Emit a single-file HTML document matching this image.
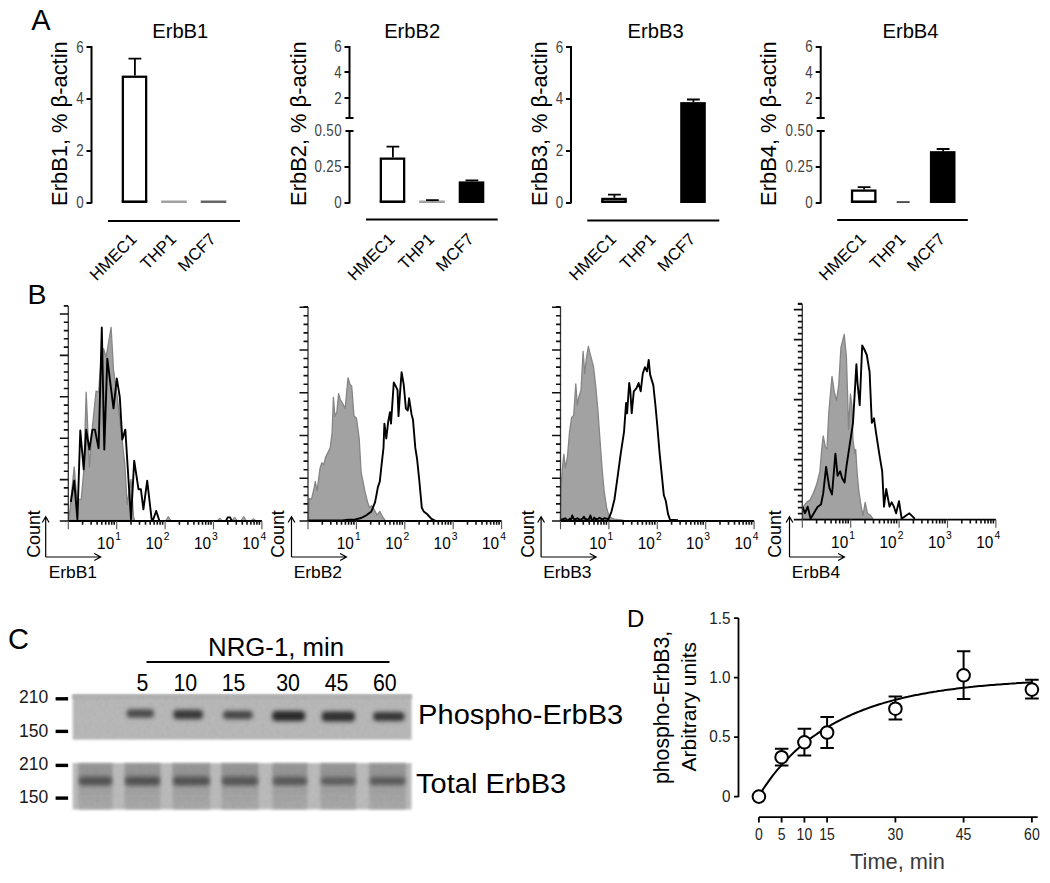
<!DOCTYPE html>
<html><head><meta charset="utf-8"><title>Figure</title>
<style>html,body{margin:0;padding:0;background:#fff;overflow:hidden;} svg{display:block;}</style></head>
<body><svg width="1050" height="883" viewBox="0 0 1050 883" font-family="Liberation Sans, sans-serif">
<rect width="1050" height="883" fill="#fff"/>
<text x="31.3" y="29.9" font-size="29" font-family="Liberation Sans, sans-serif">A</text>
<text x="27.6" y="304" font-size="28.5" font-family="Liberation Sans, sans-serif">B</text>
<text x="7.9" y="649.2" font-size="29" font-family="Liberation Sans, sans-serif">C</text>
<text x="627" y="627" font-size="24" font-family="Liberation Sans, sans-serif">D</text>
<text x="180.25" y="37.5" font-size="20.2" text-anchor="middle" font-family="Liberation Sans, sans-serif">ErbB1</text>
<text transform="translate(67,123.6) rotate(-90)" font-size="21.9" text-anchor="middle" font-family="Liberation Sans, sans-serif">ErbB1, % β-actin</text>
<path d="M91.5,46 V203.5 M86.5,203 H91.5 M86.5,151 H91.5 M86.5,99 H91.5 M86.5,47 H91.5" stroke="#000" stroke-width="2" fill="none"/>
<text transform="translate(84.0,207.8) scale(0.8,1)" fill="#444" font-size="16.7" letter-spacing="0.5" text-anchor="end" font-family="Liberation Sans, sans-serif">0</text>
<text transform="translate(84.0,155.8) scale(0.8,1)" fill="#444" font-size="16.7" letter-spacing="0.5" text-anchor="end" font-family="Liberation Sans, sans-serif">2</text>
<text transform="translate(84.0,103.8) scale(0.8,1)" fill="#444" font-size="16.7" letter-spacing="0.5" text-anchor="end" font-family="Liberation Sans, sans-serif">4</text>
<text transform="translate(84.0,53.1) scale(0.8,1)" fill="#444" font-size="16.7" letter-spacing="0.5" text-anchor="end" font-family="Liberation Sans, sans-serif">6</text>
<rect x="122.85" y="76.75" width="23.30" height="125.10" fill="#fff" stroke="#000" stroke-width="2.3"/>
<path d="M121.7,201.2 H147.3" stroke="#000" stroke-width="1.2"/>
<path d="M134.9,75.6 V58.70000000000002 M128.5,58.70000000000002 H141.3" stroke="#000" stroke-width="1.8" fill="none"/>
<text transform="translate(137.9,240.3) rotate(-45)" font-size="16.7" text-anchor="end" font-family="Liberation Sans, sans-serif">HMEC1</text>
<rect x="161.20" y="200.50" width="25.6" height="2.50" fill="#a0a0a0"/>
<text transform="translate(177.4,240.3) rotate(-45)" font-size="16.7" text-anchor="end" font-family="Liberation Sans, sans-serif">THP1</text>
<rect x="200.70" y="200.50" width="25.6" height="2.50" fill="#666"/>
<text transform="translate(216.9,240.3) rotate(-45)" font-size="16.7" text-anchor="end" font-family="Liberation Sans, sans-serif">MCF7</text>
<path d="M108,221 H240" stroke="#000" stroke-width="2"/>
<text x="412.2" y="37.5" font-size="20.2" text-anchor="middle" font-family="Liberation Sans, sans-serif">ErbB2</text>
<text transform="translate(306,123.6) rotate(-90)" font-size="21.9" text-anchor="middle" font-family="Liberation Sans, sans-serif">ErbB2, % β-actin</text>
<path d="M349.5,46 V118 M345.5,118 H353.5 M344.5,98 H349.5 M344.5,72 H349.5 M344.5,47 H349.5" stroke="#000" stroke-width="2" fill="none"/>
<path d="M349.5,130.5 V203.5 M345.5,131 H353.5 M344.5,167 H349.5 M344.5,203 H349.5" stroke="#000" stroke-width="2" fill="none"/>
<text transform="translate(342.0,103.9) scale(0.8,1)" fill="#444" font-size="16.7" letter-spacing="0.5" text-anchor="end" font-family="Liberation Sans, sans-serif">2</text>
<text transform="translate(342.0,77.9) scale(0.8,1)" fill="#444" font-size="16.7" letter-spacing="0.5" text-anchor="end" font-family="Liberation Sans, sans-serif">4</text>
<text transform="translate(342.0,52.3) scale(0.8,1)" fill="#444" font-size="16.7" letter-spacing="0.5" text-anchor="end" font-family="Liberation Sans, sans-serif">6</text>
<text transform="translate(342.0,207.8) scale(0.8,1)" fill="#444" font-size="16.7" letter-spacing="0.5" text-anchor="end" font-family="Liberation Sans, sans-serif">0</text>
<text transform="translate(342.0,171.8) scale(0.8,1)" fill="#444" font-size="16.7" letter-spacing="0.5" text-anchor="end" font-family="Liberation Sans, sans-serif">0.25</text>
<text transform="translate(342.0,135.8) scale(0.8,1)" fill="#444" font-size="16.7" letter-spacing="0.5" text-anchor="end" font-family="Liberation Sans, sans-serif">0.50</text>
<rect x="380.85" y="158.65" width="23.30" height="43.20" fill="#fff" stroke="#000" stroke-width="2.3"/>
<path d="M379.7,201.2 H405.3" stroke="#000" stroke-width="1.2"/>
<path d="M392.9,157.496 V146.552 M386.5,146.552 H399.3" stroke="#000" stroke-width="1.8" fill="none"/>
<text transform="translate(395.9,240.3) rotate(-45)" font-size="16.7" text-anchor="end" font-family="Liberation Sans, sans-serif">HMEC1</text>
<rect x="419.20" y="200.50" width="25.6" height="2.50" fill="#a0a0a0"/>
<path d="M432.4,201.272 V200.12 M426.0,200.12 H438.8" stroke="#000" stroke-width="1.8" fill="none"/>
<text transform="translate(435.4,240.3) rotate(-45)" font-size="16.7" text-anchor="end" font-family="Liberation Sans, sans-serif">THP1</text>
<rect x="458.70" y="181.40" width="25.6" height="21.60" fill="#000"/>
<path d="M471.9,181.4 V180.392 M465.5,180.392 H478.3" stroke="#000" stroke-width="1.8" fill="none"/>
<text transform="translate(474.9,240.3) rotate(-45)" font-size="16.7" text-anchor="end" font-family="Liberation Sans, sans-serif">MCF7</text>
<path d="M366,219.5 H497.7" stroke="#000" stroke-width="2"/>
<text x="655.65" y="37.5" font-size="20.2" text-anchor="middle" font-family="Liberation Sans, sans-serif">ErbB3</text>
<text transform="translate(546.6,123.6) rotate(-90)" font-size="21.9" text-anchor="middle" font-family="Liberation Sans, sans-serif">ErbB3, % β-actin</text>
<path d="M571,46 V203.5 M566,203 H571 M566,151 H571 M566,99 H571 M566,47 H571" stroke="#000" stroke-width="2" fill="none"/>
<text transform="translate(563.5,207.8) scale(0.8,1)" fill="#444" font-size="16.7" letter-spacing="0.5" text-anchor="end" font-family="Liberation Sans, sans-serif">0</text>
<text transform="translate(563.5,155.8) scale(0.8,1)" fill="#444" font-size="16.7" letter-spacing="0.5" text-anchor="end" font-family="Liberation Sans, sans-serif">2</text>
<text transform="translate(563.5,103.8) scale(0.8,1)" fill="#444" font-size="16.7" letter-spacing="0.5" text-anchor="end" font-family="Liberation Sans, sans-serif">4</text>
<text transform="translate(563.5,53.1) scale(0.8,1)" fill="#444" font-size="16.7" letter-spacing="0.5" text-anchor="end" font-family="Liberation Sans, sans-serif">6</text>
<rect x="602.35" y="198.95" width="23.30" height="2.90" fill="#fff" stroke="#000" stroke-width="2.3"/>
<path d="M601.2,201.2 H626.8" stroke="#000" stroke-width="1.2"/>
<path d="M614.4,197.8 V194.68 M608.0,194.68 H620.8" stroke="#000" stroke-width="1.8" fill="none"/>
<text transform="translate(617.4,240.3) rotate(-45)" font-size="16.7" text-anchor="end" font-family="Liberation Sans, sans-serif">HMEC1</text>
<text transform="translate(656.9,240.3) rotate(-45)" font-size="16.7" text-anchor="end" font-family="Liberation Sans, sans-serif">THP1</text>
<rect x="680.20" y="102.12" width="25.6" height="100.88" fill="#000"/>
<path d="M693.4,102.12 V99.52 M687.0,99.52 H699.8" stroke="#000" stroke-width="1.8" fill="none"/>
<text transform="translate(696.4,240.3) rotate(-45)" font-size="16.7" text-anchor="end" font-family="Liberation Sans, sans-serif">MCF7</text>
<path d="M587.3,220.6 H719.3" stroke="#000" stroke-width="2"/>
<text x="910.5" y="37.5" font-size="20.2" text-anchor="middle" font-family="Liberation Sans, sans-serif">ErbB4</text>
<text transform="translate(776,123.6) rotate(-90)" font-size="21.9" text-anchor="middle" font-family="Liberation Sans, sans-serif">ErbB4, % β-actin</text>
<path d="M820.7,46 V118 M816.7,118 H824.7 M815.7,98 H820.7 M815.7,72 H820.7 M815.7,47 H820.7" stroke="#000" stroke-width="2" fill="none"/>
<path d="M820.7,130.5 V203.5 M816.7,131 H824.7 M815.7,167 H820.7 M815.7,203 H820.7" stroke="#000" stroke-width="2" fill="none"/>
<text transform="translate(813.2,103.9) scale(0.8,1)" fill="#444" font-size="16.7" letter-spacing="0.5" text-anchor="end" font-family="Liberation Sans, sans-serif">2</text>
<text transform="translate(813.2,77.9) scale(0.8,1)" fill="#444" font-size="16.7" letter-spacing="0.5" text-anchor="end" font-family="Liberation Sans, sans-serif">4</text>
<text transform="translate(813.2,52.3) scale(0.8,1)" fill="#444" font-size="16.7" letter-spacing="0.5" text-anchor="end" font-family="Liberation Sans, sans-serif">6</text>
<text transform="translate(813.2,207.8) scale(0.8,1)" fill="#444" font-size="16.7" letter-spacing="0.5" text-anchor="end" font-family="Liberation Sans, sans-serif">0</text>
<text transform="translate(813.2,171.8) scale(0.8,1)" fill="#444" font-size="16.7" letter-spacing="0.5" text-anchor="end" font-family="Liberation Sans, sans-serif">0.25</text>
<text transform="translate(813.2,135.8) scale(0.8,1)" fill="#444" font-size="16.7" letter-spacing="0.5" text-anchor="end" font-family="Liberation Sans, sans-serif">0.50</text>
<rect x="852.05" y="190.61" width="23.30" height="11.24" fill="#fff" stroke="#000" stroke-width="2.3"/>
<path d="M850.9000000000001,201.2 H876.5" stroke="#000" stroke-width="1.2"/>
<path d="M864.1,189.464 V187.16 M857.7,187.16 H870.5" stroke="#000" stroke-width="1.8" fill="none"/>
<text transform="translate(867.1,240.3) rotate(-45)" font-size="16.7" text-anchor="end" font-family="Liberation Sans, sans-serif">HMEC1</text>
<rect x="896.7" y="201.3" width="13" height="1.5" fill="#222"/>
<text transform="translate(906.6,240.3) rotate(-45)" font-size="16.7" text-anchor="end" font-family="Liberation Sans, sans-serif">THP1</text>
<rect x="929.90" y="151.16" width="25.6" height="51.84" fill="#000"/>
<path d="M943.1,151.16 V149.0 M936.7,149.0 H949.5" stroke="#000" stroke-width="1.8" fill="none"/>
<text transform="translate(946.1,240.3) rotate(-45)" font-size="16.7" text-anchor="end" font-family="Liberation Sans, sans-serif">MCF7</text>
<path d="M837.2,220 H967.8" stroke="#000" stroke-width="2"/>
<polygon points="68.7,520.5 70.0,509.3 74.2,466.9 76.9,499.3 81.2,499.3 83.7,471.9 86.2,392.2 89.4,466.9 92.4,427.0 96.1,391.0 98.6,392.2 101.1,359.8 103.6,348.6 106.1,357.3 111.1,327.4 113.5,369.8 117.3,397.2 121.0,429.6 124.8,464.4 127.2,504.3 131.0,479.4 133.5,516.7 134.7,520.5" fill="#a2a2a2" stroke="#858585" stroke-width="1.3" stroke-linejoin="round"/>
<polygon points="165.3,521 168.3,516.3 171.3,521" fill="#a2a2a2" stroke="#858585" stroke-width="1"/>
<polygon points="216.7,521 219.7,518 222.7,521" fill="#a2a2a2" stroke="#858585" stroke-width="1"/>
<polygon points="231.6,521 234.6,516.9 237.6,521" fill="#a2a2a2" stroke="#858585" stroke-width="1"/>
<polygon points="240.7,521 243.7,516.3 246.7,521" fill="#a2a2a2" stroke="#858585" stroke-width="1"/>
<polygon points="250.4,521 253.4,518.5 256.4,521" fill="#a2a2a2" stroke="#858585" stroke-width="1"/>
<polyline points="70.8,502.0 74.2,480.6 77.4,519.2 80.3,430.5 83.7,469.4 86.2,429.6 89.4,449.5 92.4,429.6 94.9,429.6 98.6,448.2 101.8,327.4 104.3,449.5 107.3,358.6 113.5,408.4 116.8,378.5 119.8,397.2 122.3,439.5 125.3,429.6 131.0,519.2 134.2,460.7 138.5,489.3 140.9,489.3 143.4,509.3 147.2,480.6 151.6,519.0 153.0,520.0 156.2,511.0 159.3,520.5" fill="none" stroke="#000" stroke-width="1.9" stroke-linejoin="round"/>
<polyline points="225.9,521 227.70000000000002,517.4 230.1,517.4 231.9,521" fill="none" stroke="#000" stroke-width="1.8"/>
<path d="M68.3,306 V521" stroke="#333" stroke-width="1.3" fill="none"/>
<path d=" M59.8,521.0 H68.3 M63.8,512.7 H68.3 M63.8,504.4 H68.3 M63.8,496.2 H68.3 M63.8,487.9 H68.3 M59.8,479.6 H68.3 M63.8,471.3 H68.3 M63.8,463.0 H68.3 M63.8,454.8 H68.3 M63.8,446.5 H68.3 M59.8,438.2 H68.3 M63.8,429.9 H68.3 M63.8,421.6 H68.3 M63.8,413.4 H68.3 M63.8,405.1 H68.3 M59.8,396.8 H68.3 M63.8,388.5 H68.3 M63.8,380.2 H68.3 M63.8,372.0 H68.3 M63.8,363.7 H68.3 M59.8,355.4 H68.3 M63.8,347.1 H68.3 M63.8,338.8 H68.3 M63.8,330.6 H68.3 M63.8,322.3 H68.3 M59.8,314.0 H68.3 M63.8,305.7 H68.3 M63.8,306 H68.3" stroke="#111" stroke-width="1.6" fill="none"/>
<path d="M68.3,521 H261.9" stroke="#000" stroke-width="1.9" fill="none"/>
<path d=" M82.6,521 V524.8 M91.1,521 V524.8 M97.1,521 V524.8 M101.8,521 V524.8 M105.7,521 V524.8 M108.9,521 V524.8 M111.7,521 V524.8 M114.2,521 V524.8 M131.0,521 V524.8 M139.5,521 V524.8 M145.5,521 V524.8 M150.2,521 V524.8 M154.1,521 V524.8 M157.3,521 V524.8 M160.1,521 V524.8 M162.6,521 V524.8 M179.4,521 V524.8 M187.9,521 V524.8 M193.9,521 V524.8 M198.6,521 V524.8 M202.5,521 V524.8 M205.7,521 V524.8 M208.5,521 V524.8 M211.0,521 V524.8 M227.8,521 V524.8 M236.3,521 V524.8 M242.3,521 V524.8 M247.0,521 V524.8 M250.9,521 V524.8 M254.1,521 V524.8 M256.9,521 V524.8 M259.4,521 V524.8" stroke="#111" stroke-width="1.6" fill="none"/>
<path d=" M68.3,521 V529.2 M116.7,521 V529.2 M165.1,521 V529.2 M213.5,521 V529.2 M261.9,521 V529.2" stroke="#555" stroke-width="1.1" fill="none"/>
<text transform="translate(114.2,549) scale(0.96,1)" font-size="16" text-anchor="end" font-family="Liberation Sans, sans-serif">10</text><text x="115.3" y="540.3" font-size="10.3" font-family="Liberation Sans, sans-serif">1</text>
<text transform="translate(162.6,549) scale(0.96,1)" font-size="16" text-anchor="end" font-family="Liberation Sans, sans-serif">10</text><text x="163.7" y="540.3" font-size="10.3" font-family="Liberation Sans, sans-serif">2</text>
<text transform="translate(211.0,549) scale(0.96,1)" font-size="16" text-anchor="end" font-family="Liberation Sans, sans-serif">10</text><text x="212.1" y="540.3" font-size="10.3" font-family="Liberation Sans, sans-serif">3</text>
<text transform="translate(259.4,549) scale(0.96,1)" font-size="16" text-anchor="end" font-family="Liberation Sans, sans-serif">10</text><text x="260.5" y="540.3" font-size="10.3" font-family="Liberation Sans, sans-serif">4</text>
<text transform="translate(40.2,534) rotate(-90)" font-size="17.8" text-anchor="middle" font-family="Liberation Sans, sans-serif">Count</text>
<path d="M45.7,557 V516.6 M42.300000000000004,522.5 L45.7,516.6 L49.1,522.5 M45.7,557 H100.7 M94.30000000000001,553.5 L100.7,557 L94.30000000000001,560.5" stroke="#000" stroke-width="1.2" fill="none"/>
<text x="48.7" y="578" font-size="17.4" font-family="Liberation Sans, sans-serif">ErbB1</text>
<polygon points="308.4,520.7 309.1,498.3 311.5,499.3 314.3,487.1 315.3,481.5 317.1,490.8 320.0,468.4 321.8,462.8 323.7,464.7 325.6,457.2 328.4,451.6 330.2,447.9 332.1,432.9 333.4,397.4 334.9,416.1 336.8,412.3 338.6,393.6 340.5,400.2 342.4,403.0 345.2,408.6 348.0,377.8 349.9,384.3 351.7,386.2 354.0,416.1 356.4,417.9 359.2,438.5 361.1,472.1 364.8,490.8 367.6,502.1 369.5,507.7 371.4,505.8 374.2,509.5 377.0,515.1 379.8,511.4 382.6,517.0 385.4,520.7" fill="#a2a2a2" stroke="#858585" stroke-width="1.3" stroke-linejoin="round"/>
<polyline points="308.4,520.4 342.4,520.4 348.0,519.8 353.6,519.8 361.1,518.0 366.7,515.1 371.4,511.4 375.1,502.1 377.9,487.1 379.8,481.5 381.6,464.7 383.5,447.9 384.4,423.6 386.3,438.5 388.2,421.7 390.0,412.3 391.0,423.6 393.8,382.4 395.7,386.2 397.5,389.9 398.5,416.1 399.8,396.4 401.6,372.1 403.7,384.3 405.9,408.6 407.8,410.5 409.1,398.3 411.5,414.2 413.0,419.8 415.3,447.9 417.1,459.1 419.4,481.5 421.8,507.7 423.7,511.4 427.0,514.0 431.5,518.8 435.0,520.5" fill="none" stroke="#000" stroke-width="1.9" stroke-linejoin="round"/>
<path d="M308,306.7 V521" stroke="#333" stroke-width="1.3" fill="none"/>
<path d=" M299.5,521.0 H308 M303.5,512.5 H308 M303.5,503.9 H308 M303.5,495.4 H308 M303.5,486.8 H308 M299.5,478.2 H308 M303.5,469.7 H308 M303.5,461.1 H308 M303.5,452.6 H308 M303.5,444.1 H308 M299.5,435.5 H308 M303.5,426.9 H308 M303.5,418.4 H308 M303.5,409.9 H308 M303.5,401.3 H308 M299.5,392.8 H308 M303.5,384.2 H308 M303.5,375.6 H308 M303.5,367.1 H308 M303.5,358.5 H308 M299.5,350.0 H308 M303.5,341.4 H308 M303.5,332.9 H308 M303.5,324.4 H308 M303.5,315.8 H308 M299.5,307.2 H308 M303.5,306.7 H308" stroke="#111" stroke-width="1.6" fill="none"/>
<path d="M308,521 H501.6" stroke="#000" stroke-width="1.9" fill="none"/>
<path d=" M322.3,521 V524.8 M330.8,521 V524.8 M336.8,521 V524.8 M341.5,521 V524.8 M345.4,521 V524.8 M348.6,521 V524.8 M351.4,521 V524.8 M353.9,521 V524.8 M370.7,521 V524.8 M379.2,521 V524.8 M385.2,521 V524.8 M389.9,521 V524.8 M393.8,521 V524.8 M397.0,521 V524.8 M399.8,521 V524.8 M402.3,521 V524.8 M419.1,521 V524.8 M427.6,521 V524.8 M433.6,521 V524.8 M438.3,521 V524.8 M442.2,521 V524.8 M445.4,521 V524.8 M448.2,521 V524.8 M450.7,521 V524.8 M467.5,521 V524.8 M476.0,521 V524.8 M482.0,521 V524.8 M486.7,521 V524.8 M490.6,521 V524.8 M493.8,521 V524.8 M496.6,521 V524.8 M499.1,521 V524.8" stroke="#111" stroke-width="1.6" fill="none"/>
<path d=" M308.0,521 V529.2 M356.4,521 V529.2 M404.8,521 V529.2 M453.2,521 V529.2 M501.6,521 V529.2" stroke="#555" stroke-width="1.1" fill="none"/>
<text transform="translate(353.9,549) scale(0.96,1)" font-size="16" text-anchor="end" font-family="Liberation Sans, sans-serif">10</text><text x="355.0" y="540.3" font-size="10.3" font-family="Liberation Sans, sans-serif">1</text>
<text transform="translate(402.3,549) scale(0.96,1)" font-size="16" text-anchor="end" font-family="Liberation Sans, sans-serif">10</text><text x="403.4" y="540.3" font-size="10.3" font-family="Liberation Sans, sans-serif">2</text>
<text transform="translate(450.7,549) scale(0.96,1)" font-size="16" text-anchor="end" font-family="Liberation Sans, sans-serif">10</text><text x="451.8" y="540.3" font-size="10.3" font-family="Liberation Sans, sans-serif">3</text>
<text transform="translate(499.1,549) scale(0.96,1)" font-size="16" text-anchor="end" font-family="Liberation Sans, sans-serif">10</text><text x="500.2" y="540.3" font-size="10.3" font-family="Liberation Sans, sans-serif">4</text>
<text transform="translate(284.0,534) rotate(-90)" font-size="17.8" text-anchor="middle" font-family="Liberation Sans, sans-serif">Count</text>
<path d="M291.5,557 V516.6 M288.1,522.5 L291.5,516.6 L294.9,522.5 M291.5,557 H346.5 M340.1,553.5 L346.5,557 L340.1,560.5" stroke="#000" stroke-width="1.2" fill="none"/>
<text x="293.7" y="578" font-size="17.4" font-family="Liberation Sans, sans-serif">ErbB2</text>
<polygon points="560.5,520.2 561.1,486.7 562.6,465.7 563.9,454.2 565.3,467.8 567.4,457.3 569.5,432.2 571.6,417.5 573.7,415.4 575.8,384.0 577.3,405.0 578.9,396.6 581.0,390.3 583.1,351.5 584.8,373.5 586.3,358.9 588.4,346.3 589.8,352.6 591.5,358.9 593.6,367.2 595.7,386.1 597.8,409.1 599.9,438.5 602.0,467.8 604.1,490.8 606.6,507.6 609.3,517.0 614.5,519.1 622.9,520.2" fill="#a2a2a2" stroke="#858585" stroke-width="1.3" stroke-linejoin="round"/>
<polyline points="560.5,519.9 561.8,519.3 563.1,519.6 564.4,518.5 565.7,518.5 567.0,520.2 568.3,520.3 569.6,518.8 570.9,519.8 572.2,515.5 573.5,518.5 574.8,519.5 576.1,518.8 577.4,518.3 578.7,519.1 580.0,520.0 581.3,519.2 582.6,518.7 583.9,516.7 585.2,519.0 586.5,519.1 587.8,520.2 589.1,518.9 590.4,515.5 591.7,519.8 593.0,520.2 594.3,517.5 595.6,519.4 596.9,519.0 598.2,518.7 599.5,517.8 600.8,518.6 602.1,519.6 603.4,518.9 604.7,518.2 606.0,518.6 607.3,518.7 608.3,519.8 611.4,511.8 614.5,499.2 617.7,476.2 620.8,453.1 624.0,432.2 626.1,402.9 627.1,413.3 629.2,383.0 630.3,390.3 631.7,413.3 633.8,391.3 636.5,388.2 638.6,383.0 640.7,391.3 642.8,373.5 644.9,367.2 647.0,371.4 648.7,359.9 650.1,374.6 653.3,385.1 655.4,405.0 657.5,428.0 659.6,453.1 661.7,474.1 663.8,495.0 665.9,501.3 668.0,513.9 670.0,519.8 678.0,520.2" fill="none" stroke="#000" stroke-width="1.9" stroke-linejoin="round"/>
<path d="M560.5,306.7 V521" stroke="#333" stroke-width="1.3" fill="none"/>
<path d=" M552.0,521.0 H560.5 M556.0,512.5 H560.5 M556.0,503.9 H560.5 M556.0,495.4 H560.5 M556.0,486.8 H560.5 M552.0,478.2 H560.5 M556.0,469.7 H560.5 M556.0,461.1 H560.5 M556.0,452.6 H560.5 M556.0,444.1 H560.5 M552.0,435.5 H560.5 M556.0,426.9 H560.5 M556.0,418.4 H560.5 M556.0,409.9 H560.5 M556.0,401.3 H560.5 M552.0,392.8 H560.5 M556.0,384.2 H560.5 M556.0,375.6 H560.5 M556.0,367.1 H560.5 M556.0,358.5 H560.5 M552.0,350.0 H560.5 M556.0,341.4 H560.5 M556.0,332.9 H560.5 M556.0,324.4 H560.5 M556.0,315.8 H560.5 M552.0,307.2 H560.5 M556.0,306.7 H560.5" stroke="#111" stroke-width="1.6" fill="none"/>
<path d="M560.5,521 H754.1" stroke="#000" stroke-width="1.9" fill="none"/>
<path d=" M574.8,521 V524.8 M583.3,521 V524.8 M589.3,521 V524.8 M594.0,521 V524.8 M597.9,521 V524.8 M601.1,521 V524.8 M603.9,521 V524.8 M606.4,521 V524.8 M623.2,521 V524.8 M631.7,521 V524.8 M637.7,521 V524.8 M642.4,521 V524.8 M646.3,521 V524.8 M649.5,521 V524.8 M652.3,521 V524.8 M654.8,521 V524.8 M671.6,521 V524.8 M680.1,521 V524.8 M686.1,521 V524.8 M690.8,521 V524.8 M694.7,521 V524.8 M697.9,521 V524.8 M700.7,521 V524.8 M703.2,521 V524.8 M720.0,521 V524.8 M728.5,521 V524.8 M734.5,521 V524.8 M739.2,521 V524.8 M743.1,521 V524.8 M746.3,521 V524.8 M749.1,521 V524.8 M751.6,521 V524.8" stroke="#111" stroke-width="1.6" fill="none"/>
<path d=" M560.5,521 V529.2 M608.9,521 V529.2 M657.3,521 V529.2 M705.7,521 V529.2 M754.1,521 V529.2" stroke="#555" stroke-width="1.1" fill="none"/>
<text transform="translate(606.4,549) scale(0.96,1)" font-size="16" text-anchor="end" font-family="Liberation Sans, sans-serif">10</text><text x="607.5" y="540.3" font-size="10.3" font-family="Liberation Sans, sans-serif">1</text>
<text transform="translate(654.8,549) scale(0.96,1)" font-size="16" text-anchor="end" font-family="Liberation Sans, sans-serif">10</text><text x="655.9" y="540.3" font-size="10.3" font-family="Liberation Sans, sans-serif">2</text>
<text transform="translate(703.2,549) scale(0.96,1)" font-size="16" text-anchor="end" font-family="Liberation Sans, sans-serif">10</text><text x="704.3" y="540.3" font-size="10.3" font-family="Liberation Sans, sans-serif">3</text>
<text transform="translate(751.6,549) scale(0.96,1)" font-size="16" text-anchor="end" font-family="Liberation Sans, sans-serif">10</text><text x="752.7" y="540.3" font-size="10.3" font-family="Liberation Sans, sans-serif">4</text>
<text transform="translate(534.0,534) rotate(-90)" font-size="17.8" text-anchor="middle" font-family="Liberation Sans, sans-serif">Count</text>
<path d="M541.1,557 V516.6 M537.7,522.5 L541.1,516.6 L544.5,522.5 M541.1,557 H596.1 M589.7,553.5 L596.1,557 L589.7,560.5" stroke="#000" stroke-width="1.2" fill="none"/>
<text x="543.2" y="578" font-size="17.4" font-family="Liberation Sans, sans-serif">ErbB3</text>
<polygon points="802.7,518.8 803.3,506.7 806.6,502.3 809.9,500.1 813.3,493.4 816.6,484.6 819.9,471.3 821.7,449.3 823.2,436.0 825.4,447.0 827.0,449.3 828.7,413.9 832.0,376.4 834.3,391.8 836.5,400.7 838.7,385.2 840.9,347.7 844.2,334.4 846.4,356.5 847.5,391.8 848.6,429.4 850.4,394.0 851.9,405.1 853.0,440.4 854.8,453.7 855.7,449.3 857.0,471.3 858.6,489.0 860.8,504.5 863.0,515.5 865.2,502.3 867.4,513.3 870.7,515.5 872.9,518.8" fill="#a2a2a2" stroke="#858585" stroke-width="1.3" stroke-linejoin="round"/>
<polyline points="802.7,506.7 804.9,513.3 807.7,506.7 810.6,518.8 814.4,512.2 817.7,506.7 821.0,504.5 823.2,493.4 826.1,466.9 829.4,487.9 832.0,494.5 835.4,453.7 837.6,475.8 840.2,471.3 842.0,478.0 844.6,482.4 846.4,466.9 849.7,444.8 853.0,422.8 856.4,364.2 857.5,383.0 859.7,405.1 862.2,345.4 864.6,350.0 866.8,355.0 869.6,372.0 871.8,422.8 874.0,418.3 876.2,433.8 879.6,455.9 882.2,471.3 884.0,506.7 886.2,489.0 889.5,506.7 891.7,502.3 893.9,506.7 896.1,513.3 899.0,501.2 901.7,518.8 906.1,515.5 909.4,513.3 912.7,516.6 914.9,518.8" fill="none" stroke="#000" stroke-width="1.9" stroke-linejoin="round"/>
<path d="M802.3,304.3 V519.6" stroke="#333" stroke-width="1.3" fill="none"/>
<path d=" M793.8,519.6 H802.3 M797.8,513.6 H802.3 M797.8,507.6 H802.3 M797.8,501.6 H802.3 M797.8,495.6 H802.3 M793.8,489.6 H802.3 M797.8,483.6 H802.3 M797.8,477.6 H802.3 M797.8,471.6 H802.3 M797.8,465.6 H802.3 M793.8,459.6 H802.3 M797.8,453.6 H802.3 M797.8,447.6 H802.3 M797.8,441.6 H802.3 M797.8,435.6 H802.3 M793.8,429.6 H802.3 M797.8,423.6 H802.3 M797.8,417.6 H802.3 M797.8,411.6 H802.3 M797.8,405.6 H802.3 M793.8,399.6 H802.3 M797.8,393.6 H802.3 M797.8,387.6 H802.3 M797.8,381.6 H802.3 M797.8,375.6 H802.3 M793.8,369.6 H802.3 M797.8,363.6 H802.3 M797.8,357.6 H802.3 M797.8,351.6 H802.3 M797.8,345.6 H802.3 M793.8,339.6 H802.3 M797.8,333.6 H802.3 M797.8,327.6 H802.3 M797.8,321.6 H802.3 M797.8,315.6 H802.3 M793.8,309.6 H802.3 M797.8,303.6 H802.3 M797.8,304.3 H802.3" stroke="#111" stroke-width="1.6" fill="none"/>
<path d="M802.3,519.6 H995.9" stroke="#000" stroke-width="1.9" fill="none"/>
<path d=" M816.6,519.6 V523.4 M825.1,519.6 V523.4 M831.1,519.6 V523.4 M835.8,519.6 V523.4 M839.7,519.6 V523.4 M842.9,519.6 V523.4 M845.7,519.6 V523.4 M848.2,519.6 V523.4 M865.0,519.6 V523.4 M873.5,519.6 V523.4 M879.5,519.6 V523.4 M884.2,519.6 V523.4 M888.1,519.6 V523.4 M891.3,519.6 V523.4 M894.1,519.6 V523.4 M896.6,519.6 V523.4 M913.4,519.6 V523.4 M921.9,519.6 V523.4 M927.9,519.6 V523.4 M932.6,519.6 V523.4 M936.5,519.6 V523.4 M939.7,519.6 V523.4 M942.5,519.6 V523.4 M945.0,519.6 V523.4 M961.8,519.6 V523.4 M970.3,519.6 V523.4 M976.3,519.6 V523.4 M981.0,519.6 V523.4 M984.9,519.6 V523.4 M988.1,519.6 V523.4 M990.9,519.6 V523.4 M993.4,519.6 V523.4" stroke="#111" stroke-width="1.6" fill="none"/>
<path d=" M802.3,519.6 V527.8000000000001 M850.7,519.6 V527.8000000000001 M899.1,519.6 V527.8000000000001 M947.5,519.6 V527.8000000000001 M995.9,519.6 V527.8000000000001" stroke="#555" stroke-width="1.1" fill="none"/>
<text transform="translate(848.2,547.6) scale(0.96,1)" font-size="16" text-anchor="end" font-family="Liberation Sans, sans-serif">10</text><text x="849.3" y="538.9" font-size="10.3" font-family="Liberation Sans, sans-serif">1</text>
<text transform="translate(896.6,547.6) scale(0.96,1)" font-size="16" text-anchor="end" font-family="Liberation Sans, sans-serif">10</text><text x="897.7" y="538.9" font-size="10.3" font-family="Liberation Sans, sans-serif">2</text>
<text transform="translate(945.0,547.6) scale(0.96,1)" font-size="16" text-anchor="end" font-family="Liberation Sans, sans-serif">10</text><text x="946.1" y="538.9" font-size="10.3" font-family="Liberation Sans, sans-serif">3</text>
<text transform="translate(993.4,547.6) scale(0.96,1)" font-size="16" text-anchor="end" font-family="Liberation Sans, sans-serif">10</text><text x="994.5" y="538.9" font-size="10.3" font-family="Liberation Sans, sans-serif">4</text>
<text transform="translate(781.3000000000001,534) rotate(-90)" font-size="17.8" text-anchor="middle" font-family="Liberation Sans, sans-serif">Count</text>
<path d="M789.5,557 V516.6 M786.1,522.5 L789.5,516.6 L792.9,522.5 M789.5,557 H844.5 M838.1,553.5 L844.5,557 L838.1,560.5" stroke="#000" stroke-width="1.2" fill="none"/>
<text x="791.8000000000001" y="578" font-size="17.4" font-family="Liberation Sans, sans-serif">ErbB4</text>
<defs>
<filter id="bl1" x="-30%" y="-100%" width="160%" height="300%"><feGaussianBlur stdDeviation="2"/></filter>
<filter id="bl3" x="-30%" y="-30%" width="160%" height="160%"><feGaussianBlur stdDeviation="1.8"/></filter>
<filter id="bl2" x="-5%" y="-5%" width="110%" height="110%"><feGaussianBlur stdDeviation="1.2"/></filter>
<filter id="nz" x="0" y="0" width="100%" height="100%"><feTurbulence type="fractalNoise" baseFrequency="0.45" numOctaves="2" seed="7" result="t"/><feColorMatrix in="t" type="matrix" values="0 0 0 0 0  0 0 0 0 0  0 0 0 0 0  0 0 0 -2.2 1.25" result="a"/><feGaussianBlur in="a" stdDeviation="0.9" result="b"/><feComposite in="b" in2="SourceGraphic" operator="in"/></filter>
</defs>
<text x="208" y="656" font-size="25.8" font-family="Liberation Sans, sans-serif">NRG-1, min</text>
<path d="M146.5,662 H389.5" stroke="#000" stroke-width="2"/>
<text transform="translate(142.5,690.7) scale(0.89,1)" font-size="24" text-anchor="middle" font-family="Liberation Sans, sans-serif">5</text>
<text transform="translate(185.3,690.7) scale(0.89,1)" font-size="24" text-anchor="middle" font-family="Liberation Sans, sans-serif">10</text>
<text transform="translate(233.5,690.7) scale(0.89,1)" font-size="24" text-anchor="middle" font-family="Liberation Sans, sans-serif">15</text>
<text transform="translate(288.1,690.7) scale(0.89,1)" font-size="24" text-anchor="middle" font-family="Liberation Sans, sans-serif">30</text>
<text transform="translate(336.5,690.7) scale(0.89,1)" font-size="24" text-anchor="middle" font-family="Liberation Sans, sans-serif">45</text>
<text transform="translate(384.8,690.7) scale(0.89,1)" font-size="24" text-anchor="middle" font-family="Liberation Sans, sans-serif">60</text>
<text x="48.3" y="703.3" font-size="17.5" text-anchor="end" fill="#1a1a1a" font-family="Liberation Sans, sans-serif">210</text>
<rect x="55.6" y="697.0999999999999" width="12.5" height="3.4" fill="#000"/>
<text x="48.3" y="737.3" font-size="17.5" text-anchor="end" fill="#1a1a1a" font-family="Liberation Sans, sans-serif">150</text>
<rect x="55.6" y="729.6999999999999" width="12.5" height="3.4" fill="#000"/>
<text x="48.3" y="770" font-size="17.5" text-anchor="end" fill="#1a1a1a" font-family="Liberation Sans, sans-serif">210</text>
<rect x="55.6" y="763.6999999999999" width="12.5" height="3.4" fill="#000"/>
<text x="48.3" y="802.5" font-size="17.5" text-anchor="end" fill="#1a1a1a" font-family="Liberation Sans, sans-serif">150</text>
<rect x="55.6" y="796.4" width="12.5" height="3.4" fill="#000"/>
<rect x="72.6" y="694.3" width="339" height="45.4" fill="#b9b9b9" filter="url(#bl2)"/>
<rect x="72.6" y="694.3" width="339" height="5" fill="#b2b2b2" filter="url(#bl2)"/>
<rect x="126.5" y="709.35" width="27.5" height="8.5" rx="4" fill="#4e4e4e" filter="url(#bl1)"/>
<rect x="173.3" y="709.85" width="29.599999999999994" height="9.5" rx="4" fill="#3a3a3a" filter="url(#bl1)"/>
<rect x="223" y="710.75" width="29.80000000000001" height="8.5" rx="4" fill="#484848" filter="url(#bl1)"/>
<rect x="272.2" y="710.9" width="32.900000000000034" height="10" rx="4" fill="#2c2c2c" filter="url(#bl1)"/>
<rect x="321.7" y="711.6" width="33.19999999999999" height="10" rx="4" fill="#313131" filter="url(#bl1)"/>
<rect x="373.1" y="712.1" width="31.5" height="9" rx="4" fill="#383838" filter="url(#bl1)"/>
<rect x="72.6" y="763" width="339" height="46.5" fill="#bcbcbc" filter="url(#bl2)"/>
<linearGradient id="lg" x1="0" y1="0" x2="0" y2="1"><stop offset="0" stop-color="#989898"/><stop offset="0.25" stop-color="#959595"/><stop offset="0.5" stop-color="#a2a2a2"/><stop offset="1" stop-color="#ababab"/></linearGradient>
<rect x="78.4" y="763.5" width="34.099999999999994" height="45.5" fill="url(#lg)" filter="url(#bl3)"/>
<rect x="78.9" y="776.4" width="33.099999999999994" height="9.2" rx="4" fill="#555" filter="url(#bl1)"/>
<rect x="80.9" y="792" width="29.099999999999994" height="1.5" fill="#8c8c8c" opacity="0.35" filter="url(#bl1)"/>
<rect x="80.9" y="799" width="29.099999999999994" height="1.5" fill="#8c8c8c" opacity="0.35" filter="url(#bl1)"/>
<rect x="80.9" y="804.5" width="29.099999999999994" height="1.5" fill="#8c8c8c" opacity="0.35" filter="url(#bl1)"/>
<rect x="124.6" y="763.5" width="35.900000000000006" height="45.5" fill="url(#lg)" filter="url(#bl3)"/>
<rect x="125.1" y="776.4" width="34.900000000000006" height="9.2" rx="4" fill="#535353" filter="url(#bl1)"/>
<rect x="127.1" y="792" width="30.900000000000006" height="1.5" fill="#8c8c8c" opacity="0.35" filter="url(#bl1)"/>
<rect x="127.1" y="799" width="30.900000000000006" height="1.5" fill="#8c8c8c" opacity="0.35" filter="url(#bl1)"/>
<rect x="127.1" y="804.5" width="30.900000000000006" height="1.5" fill="#8c8c8c" opacity="0.35" filter="url(#bl1)"/>
<rect x="172.6" y="763.5" width="37.599999999999994" height="45.5" fill="url(#lg)" filter="url(#bl3)"/>
<rect x="173.1" y="776.4" width="36.599999999999994" height="9.2" rx="4" fill="#555" filter="url(#bl1)"/>
<rect x="175.1" y="792" width="32.599999999999994" height="1.5" fill="#8c8c8c" opacity="0.35" filter="url(#bl1)"/>
<rect x="175.1" y="799" width="32.599999999999994" height="1.5" fill="#8c8c8c" opacity="0.35" filter="url(#bl1)"/>
<rect x="175.1" y="804.5" width="32.599999999999994" height="1.5" fill="#8c8c8c" opacity="0.35" filter="url(#bl1)"/>
<rect x="221.5" y="763.5" width="37" height="45.5" fill="url(#lg)" filter="url(#bl3)"/>
<rect x="222" y="776.4" width="36" height="9.2" rx="4" fill="#585858" filter="url(#bl1)"/>
<rect x="224" y="792" width="32" height="1.5" fill="#8c8c8c" opacity="0.35" filter="url(#bl1)"/>
<rect x="224" y="799" width="32" height="1.5" fill="#8c8c8c" opacity="0.35" filter="url(#bl1)"/>
<rect x="224" y="804.5" width="32" height="1.5" fill="#8c8c8c" opacity="0.35" filter="url(#bl1)"/>
<rect x="272.4" y="763.5" width="35.0" height="45.5" fill="url(#lg)" filter="url(#bl3)"/>
<rect x="272.9" y="776.7" width="34.0" height="8.6" rx="4" fill="#5a5a5a" filter="url(#bl1)"/>
<rect x="274.9" y="792" width="30.0" height="1.5" fill="#8c8c8c" opacity="0.35" filter="url(#bl1)"/>
<rect x="274.9" y="799" width="30.0" height="1.5" fill="#8c8c8c" opacity="0.35" filter="url(#bl1)"/>
<rect x="274.9" y="804.5" width="30.0" height="1.5" fill="#8c8c8c" opacity="0.35" filter="url(#bl1)"/>
<rect x="320.4" y="763.5" width="35.80000000000001" height="45.5" fill="url(#lg)" filter="url(#bl3)"/>
<rect x="320.9" y="777.0" width="34.80000000000001" height="8" rx="4" fill="#606060" filter="url(#bl1)"/>
<rect x="322.9" y="792" width="30.80000000000001" height="1.5" fill="#8c8c8c" opacity="0.35" filter="url(#bl1)"/>
<rect x="322.9" y="799" width="30.80000000000001" height="1.5" fill="#8c8c8c" opacity="0.35" filter="url(#bl1)"/>
<rect x="322.9" y="804.5" width="30.80000000000001" height="1.5" fill="#8c8c8c" opacity="0.35" filter="url(#bl1)"/>
<rect x="369.2" y="763.5" width="36.69999999999999" height="45.5" fill="url(#lg)" filter="url(#bl3)"/>
<rect x="369.7" y="777.0" width="35.69999999999999" height="8" rx="4" fill="#5c5c5c" filter="url(#bl1)"/>
<rect x="371.7" y="792" width="31.69999999999999" height="1.5" fill="#8c8c8c" opacity="0.35" filter="url(#bl1)"/>
<rect x="371.7" y="799" width="31.69999999999999" height="1.5" fill="#8c8c8c" opacity="0.35" filter="url(#bl1)"/>
<rect x="371.7" y="804.5" width="31.69999999999999" height="1.5" fill="#8c8c8c" opacity="0.35" filter="url(#bl1)"/>
<rect x="74" y="696" width="336" height="42.5" fill="#000" opacity="0.08" filter="url(#nz)"/>
<rect x="74" y="764.5" width="336" height="43.5" fill="#000" opacity="0.08" filter="url(#nz)"/>
<text transform="translate(418.1,723.5) scale(1.02,1)" font-size="28.5" font-family="Liberation Sans, sans-serif">Phospho-ErbB3</text>
<text transform="translate(416,793.2) scale(1.02,1)" font-size="28.5" font-family="Liberation Sans, sans-serif">Total ErbB3</text>
<path d="M738.5,618 V797 M734,796.6 H738.5 M734,737.1 H738.5 M734,677.7 H738.5 M734,618.2 H738.5" stroke="#000" stroke-width="1.8" fill="none"/>
<text transform="translate(730.5,801.8) scale(0.9,1)" font-size="17" text-anchor="end" fill="#222" font-family="Liberation Sans, sans-serif">0</text>
<text transform="translate(730.5,742.4) scale(0.9,1)" font-size="17" text-anchor="end" fill="#222" font-family="Liberation Sans, sans-serif">0.5</text>
<text transform="translate(730.5,682.9) scale(0.9,1)" font-size="17" text-anchor="end" fill="#222" font-family="Liberation Sans, sans-serif">1.0</text>
<text transform="translate(730.5,623.5) scale(0.9,1)" font-size="17" text-anchor="end" fill="#222" font-family="Liberation Sans, sans-serif">1.5</text>
<path d="M758.9,817.2 H1037.7 M758.9,817.2 V822.5 M781.6,817.2 V822.5 M804.4,817.2 V822.5 M827.1,817.2 V822.5 M895.4,817.2 V822.5 M963.6,817.2 V822.5 M1031.9,817.2 V822.5" stroke="#000" stroke-width="1.8" fill="none"/>
<text transform="translate(758.9,839.5) scale(0.85,1)" font-size="16.5" text-anchor="middle" fill="#222" font-family="Liberation Sans, sans-serif">0</text>
<text transform="translate(781.6,839.5) scale(0.85,1)" font-size="16.5" text-anchor="middle" fill="#222" font-family="Liberation Sans, sans-serif">5</text>
<text transform="translate(804.4,839.5) scale(0.85,1)" font-size="16.5" text-anchor="middle" fill="#222" font-family="Liberation Sans, sans-serif">10</text>
<text transform="translate(827.1,839.5) scale(0.85,1)" font-size="16.5" text-anchor="middle" fill="#222" font-family="Liberation Sans, sans-serif">15</text>
<text transform="translate(895.4,839.5) scale(0.85,1)" font-size="16.5" text-anchor="middle" fill="#222" font-family="Liberation Sans, sans-serif">30</text>
<text transform="translate(963.6,839.5) scale(0.85,1)" font-size="16.5" text-anchor="middle" fill="#222" font-family="Liberation Sans, sans-serif">45</text>
<text transform="translate(1031.9,839.5) scale(0.85,1)" font-size="16.5" text-anchor="middle" fill="#222" font-family="Liberation Sans, sans-serif">60</text>
<text x="897.5" y="868.5" font-size="21.8" text-anchor="middle" fill="#3a3a3a" font-family="Liberation Sans, sans-serif">Time, min</text>
<text transform="translate(669.3,707.4) rotate(-90)" font-size="21.2" text-anchor="middle" font-family="Liberation Sans, sans-serif">phospho-ErbB3,</text>
<text transform="translate(695.8,706.7) rotate(-90)" font-size="21" text-anchor="middle" font-family="Liberation Sans, sans-serif">Arbitrary units</text>
<polyline points="758.9,796.6 761.2,792.5 763.4,788.8 765.7,785.4 768.0,782.1 770.3,778.9 772.5,775.9 774.8,773.0 777.1,770.2 779.4,767.6 781.6,765.0 783.9,762.4 786.2,760.0 788.5,757.7 790.8,755.4 793.0,753.2 795.3,751.1 797.6,749.0 799.9,747.0 802.1,745.1 804.4,743.2 806.7,741.4 808.9,739.7 811.2,737.9 813.5,736.3 815.8,734.7 818.0,733.1 820.3,731.6 822.6,730.1 824.9,728.7 827.1,727.3 829.4,726.0 831.7,724.7 834.0,723.4 836.2,722.2 838.5,721.0 840.8,719.8 843.1,718.7 845.4,717.6 847.6,716.5 849.9,715.5 852.2,714.4 854.4,713.5 856.7,712.5 859.0,711.6 861.3,710.7 863.5,709.8 865.8,709.0 868.1,708.1 870.4,707.3 872.6,706.5 874.9,705.8 877.2,705.0 879.5,704.3 881.8,703.6 884.0,702.9 886.3,702.3 888.6,701.6 890.8,701.0 893.1,700.4 895.4,699.8 897.7,699.2 899.9,698.7 902.2,698.1 904.5,697.6 906.8,697.1 909.0,696.5 911.3,696.1 913.6,695.6 915.9,695.1 918.1,694.7 920.4,694.2 922.7,693.8 925.0,693.4 927.2,693.0 929.5,692.6 931.8,692.2 934.1,691.8 936.3,691.5 938.6,691.1 940.9,690.8 943.2,690.4 945.4,690.1 947.7,689.8 950.0,689.5 952.3,689.2 954.5,688.9 956.8,688.6 959.1,688.3 961.4,688.0 963.6,687.8 965.9,687.5 968.2,687.3 970.5,687.0 972.8,686.8 975.0,686.5 977.3,686.3 979.6,686.1 981.8,685.9 984.1,685.7 986.4,685.5 988.7,685.3 990.9,685.1 993.2,684.9 995.5,684.7 997.8,684.5 1000.0,684.4 1002.3,684.2 1004.6,684.0 1006.9,683.9 1009.1,683.7 1011.4,683.6 1013.7,683.4 1016.0,683.3 1018.2,683.1 1020.5,683.0 1022.8,682.8 1025.1,682.7 1027.3,682.6 1029.6,682.5 1031.9,682.3" fill="none" stroke="#000" stroke-width="2"/>
<circle cx="758.9" cy="796.6" r="6.3" fill="#fff" stroke="#000" stroke-width="2"/>
<path d="M781.6,748.7 V765.6 M774.9,748.7 H788.4 M774.9,765.6 H788.4" stroke="#000" stroke-width="2" fill="none"/>
<circle cx="781.6" cy="757.2" r="6.3" fill="#fff" stroke="#000" stroke-width="2"/>
<path d="M804.4,728.8 V755.5 M797.6,728.8 H811.2 M797.6,755.5 H811.2" stroke="#000" stroke-width="2" fill="none"/>
<circle cx="804.4" cy="742.3" r="6.3" fill="#fff" stroke="#000" stroke-width="2"/>
<path d="M827.1,716.9 V748 M820.4,716.9 H833.9 M820.4,748 H833.9" stroke="#000" stroke-width="2" fill="none"/>
<circle cx="827.1" cy="732.5" r="6.3" fill="#fff" stroke="#000" stroke-width="2"/>
<path d="M895.4,696.4 V719.4 M888.6,696.4 H902.2 M888.6,719.4 H902.2" stroke="#000" stroke-width="2" fill="none"/>
<circle cx="895.4" cy="708.7" r="6.3" fill="#fff" stroke="#000" stroke-width="2"/>
<path d="M963.6,651.3 V699.1 M956.9,651.3 H970.4 M956.9,699.1 H970.4" stroke="#000" stroke-width="2" fill="none"/>
<circle cx="963.6" cy="675.3" r="6.3" fill="#fff" stroke="#000" stroke-width="2"/>
<path d="M1031.9,679.7 V698.6 M1025.1,679.7 H1038.7 M1025.1,698.6 H1038.7" stroke="#000" stroke-width="2" fill="none"/>
<circle cx="1031.9" cy="689.6" r="6.3" fill="#fff" stroke="#000" stroke-width="2"/>
</svg></body></html>
